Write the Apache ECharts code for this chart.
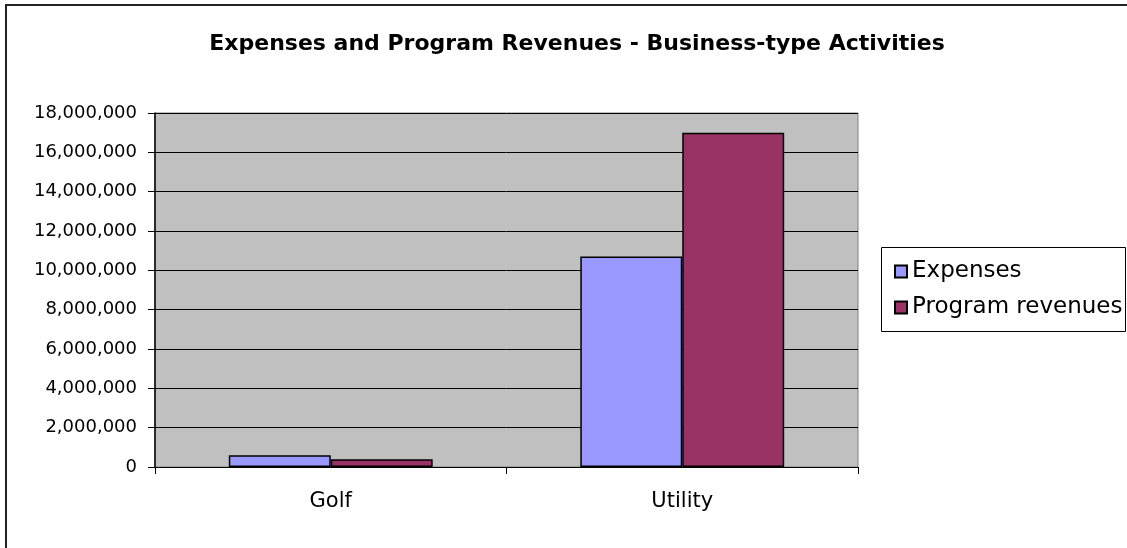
<!DOCTYPE html>
<html>
<head>
<meta charset="utf-8">
<script src="https://cdn.jsdelivr.net/npm/echarts@6/dist/echarts.min.js"></script>
<style>
html,body{margin:0;padding:0;background:#fff;}
#chart{width:1127px;height:548px;}
</style>
</head>
<body>
<div id="chart"></div>
<script>
const titleText = 'Expenses and Program Revenues - Business-type Activities';
const categories = ['Golf', 'Utility'];
const seriesNames = ['Expenses', 'Program revenues'];
const expenses = [600000, 10700000];
const programRevenues = [400000, 17000000];
const yMin = 0, yMax = 18000000, yStep = 2000000;

const FONT = 'DejaVu Sans';
const chart = echarts.init(document.getElementById('chart'));
chart.setOption({
  backgroundColor: '#ffffff',
  animation: false,
  title: {
    text: titleText,
    left: 572,
    textAlign: 'center',
    top: 28,
    textStyle: { fontFamily: FONT, fontWeight: 'bold', fontSize: 22, color: '#000' }
  },
  grid: {
    left: 155, top: 113, width: 703, height: 354,
    show: true, backgroundColor: '#c0c0c0', borderColor: '#808080', borderWidth: 1
  },
  legend: {
    orient: 'vertical',
    left: 889, top: 255,
    itemWidth: 12, itemHeight: 12, itemGap: 13,
    icon: 'rect',
    textStyle: { fontFamily: FONT, fontSize: 23, color: '#000' },
    data: seriesNames
  },
  xAxis: {
    type: 'category',
    data: categories,
    axisLine: { lineStyle: { color: '#000', width: 1 } },
    axisTick: { show: true, length: 7, alignWithLabel: false, lineStyle: { color: '#000' } },
    axisLabel: { margin: 24, fontFamily: FONT, fontSize: 21, color: '#000' },
    splitLine: { show: false }
  },
  yAxis: {
    type: 'value',
    min: yMin, max: yMax, interval: yStep,
    axisLine: { show: true, lineStyle: { color: '#000', width: 1.5 } },
    axisTick: { show: true, length: 7, lineStyle: { color: '#000' } },
    axisLabel: {
      margin: 18, fontFamily: FONT, fontSize: 18, color: '#000',
      formatter: v => v.toLocaleString('en-US')
    },
    splitLine: { show: true, lineStyle: { color: '#000', width: 1 } }
  },
  series: [
    {
      name: seriesNames[0], type: 'bar', data: expenses,
      barGap: '0%', barCategoryGap: '42%',
      itemStyle: { color: '#9999ff', borderColor: '#000', borderWidth: 1.5 }
    },
    {
      name: seriesNames[1], type: 'bar', data: programRevenues,
      barGap: '0%', barCategoryGap: '42%',
      itemStyle: { color: '#993366', borderColor: '#000', borderWidth: 1.5 }
    }
  ],
  graphic: [
    { type: 'rect', silent: true, shape: { x: 6, y: 5, width: 1140, height: 570 },
      style: { fill: 'none', stroke: '#222', lineWidth: 2 } },
    { type: 'rect', silent: true, shape: { x: 881.5, y: 247.5, width: 244, height: 84 },
      style: { fill: 'none', stroke: '#000', lineWidth: 1 } }
  ]
});
</script>
</body>
</html>
